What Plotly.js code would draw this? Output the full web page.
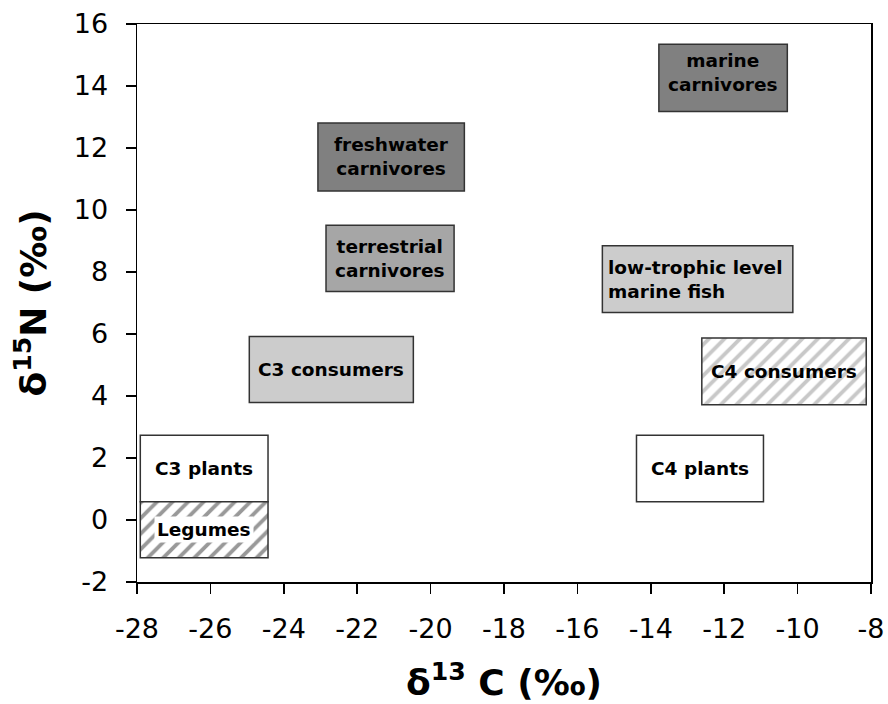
<!DOCTYPE html>
<html>
<head>
<meta charset="utf-8">
<script src="https://cdn.plot.ly/plotly-3.0.1.min.js"></script>
<style>
html, body { margin: 0; padding: 0; background: #fff; }
#chart { width: 888px; height: 704px; }
</style>
</head>
<body>
<div id="chart"></div>
<script>
// Box ranges (delta13C, delta15N in permil)
const groupLabels = ['marine<br>carnivores', 'freshwater<br>carnivores', 'terrestrial<br>carnivores',
  'low-trophic level<br>marine fish', 'C3 consumers', 'C4 consumers', 'C3 plants', 'C4 plants', 'Legumes'];
const carbonMin = [-13.78, -23.07, -22.85, -15.32, -24.94, -12.61, -27.91, -14.39, -27.91];
const carbonMax = [-10.28, -19.08, -19.36, -10.13, -20.47, -8.13, -24.43, -10.93, -24.43];
const nitrogenMin = [13.18, 10.61, 7.37, 6.69, 3.79, 3.72, 0.59, 0.59, -1.22];
const nitrogenMax = [15.35, 12.81, 9.51, 8.85, 5.92, 5.87, 2.73, 2.73, 0.59];
const fillColors = ['#808080', '#808080', '#a6a6a6', '#cccccc', '#cccccc', '#ffffff', '#ffffff', '#ffffff', '#ffffff'];
const hatchColors = ['', '', '', '', '', '#c8c8c8', '', '', '#999999'];
const textAlign = ['center', 'center', 'center', 'left', 'center', 'center', 'center', 'center', 'center'];
const textShift = [5, 0, 0, 0, 0, 0, 0, 0, 0];
const textBg = ['', '', '', '', '', '', '', '', '#ffffff'];

const xTickVals = [-28, -26, -24, -22, -20, -18, -16, -14, -12, -10, -8];
const xTickText = ['-28', '-26', '-24', '-22', '-20', '-18', '-16', '-14', '-12', '-10', '-8'];
const yTickVals = [-2, 0, 2, 4, 6, 8, 10, 12, 14, 16];
const yTickText = ['-2', '0', '2', '4', '6', '8', '10', '12', '14', '16'];

function boxTrace(i) {
  const marker = {
    color: fillColors[i],
    line: { color: '#333333', width: 1.5 }
  };
  if (hatchColors[i]) {
    marker.pattern = { shape: '/', fgcolor: hatchColors[i], bgcolor: '#ffffff',
      fgopacity: 1, fillmode: 'replace', size: 11, solidity: 0.35 };
  }
  return {
    type: 'bar',
    x: [(carbonMin[i] + carbonMax[i]) / 2],
    y: [nitrogenMax[i] - nitrogenMin[i]],
    base: [nitrogenMin[i]],
    width: [carbonMax[i] - carbonMin[i]],
    marker: marker,
    hoverinfo: 'skip',
    showlegend: false
  };
}
const traces = groupLabels.map((_, i) => boxTrace(i));

const annotations = groupLabels.map((t, i) => {
  const left = textAlign[i] === 'left';
  const a = {
    x: left ? carbonMin[i] : (carbonMin[i] + carbonMax[i]) / 2,
    y: (nitrogenMin[i] + nitrogenMax[i]) / 2,
    xref: 'x', yref: 'y',
    xanchor: left ? 'left' : 'center',
    yanchor: 'middle',
    xshift: left ? 4 : 0,
    yshift: textShift[i],
    align: textAlign[i],
    showarrow: false,
    text: '<b>' + t + '</b>',
    font: { family: 'DejaVu Sans', size: 18.5, color: '#000' }
  };
  if (textBg[i]) { a.bgcolor = textBg[i]; a.borderpad = 2; }
  return a;
});

const tickFont = { family: 'DejaVu Sans', size: 27, color: '#000' };
const titleFont = { family: 'DejaVu Sans', size: 36, color: '#000' };

const layout = {
  width: 888, height: 704,
  margin: { l: 137, r: 17, t: 23.5, b: 121.5, pad: 0 },
  paper_bgcolor: '#fff', plot_bgcolor: '#fff',
  barmode: 'overlay',
  showlegend: false,
  xaxis: {
    range: [-28, -8], tickvals: xTickVals, ticktext: xTickText,
    ticks: 'outside', ticklen: 10, tickwidth: 1.5, tickcolor: '#000',
    ticklabelstandoff: 12,
    showline: true, linecolor: '#000', linewidth: 1.5, mirror: true,
    showgrid: false, zeroline: false, tickfont: tickFont,
    title: { text: '<b>δ<sup>13</sup> C (‰)</b>', font: titleFont, standoff: 27 },
    automargin: false
  },
  yaxis: {
    range: [-2, 16], tickvals: yTickVals, ticktext: yTickText,
    ticks: 'outside', ticklen: 10, tickwidth: 1.5, tickcolor: '#000',
    ticklabelstandoff: 12,
    showline: true, linecolor: '#000', linewidth: 1.5, mirror: true,
    showgrid: false, zeroline: false, tickfont: tickFont,
    title: { text: '<b>δ<sup>15</sup>N (‰)</b>', font: titleFont, standoff: 16 },
    automargin: false
  },
  annotations: annotations,
  hovermode: false
};

Plotly.newPlot('chart', traces, layout, { displayModeBar: false, staticPlot: true });
</script>
</body>
</html>
